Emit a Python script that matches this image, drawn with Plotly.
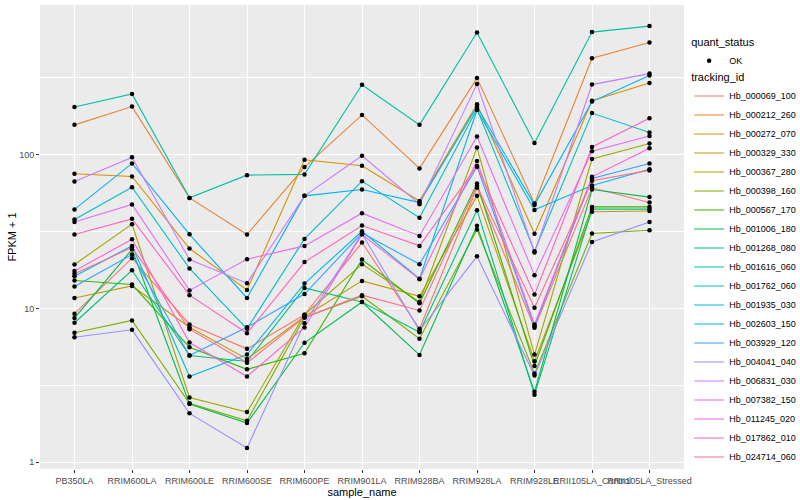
import numpy as np
import plotly.graph_objects as go

samples = ["PB350LA", "RRIM600LA", "RRIM600LE", "RRIM600SE", "RRIM600PE", "RRIM901LA",
           "RRIM928BA", "RRIM928LA", "RRIM928LE", "RRII105LA_Control", "RRII105LA_Stressed"]

tracking_ids = ["Hb_000069_100", "Hb_000212_260", "Hb_000272_070", "Hb_000329_330", "Hb_000367_280",
                "Hb_000398_160", "Hb_000567_170", "Hb_001006_180", "Hb_001268_080", "Hb_001616_060",
                "Hb_001762_060", "Hb_001935_030", "Hb_002603_150", "Hb_003929_120", "Hb_004041_040",
                "Hb_006831_030", "Hb_007382_150", "Hb_011245_020", "Hb_017862_010", "Hb_024714_060"]

colors = ["#F8766D", "#EA8331", "#D89000", "#C09B00", "#A3A500", "#7CAE00", "#39B600", "#00BB4E",
          "#00BF7D", "#00C1A3", "#00BFC4", "#00BAE0", "#00B0F6", "#35A2FF", "#9590FF", "#C77CFF",
          "#E76BF3", "#FA62DB", "#FF62BC", "#FF6C91"]

# FPKM + 1 per sample (same order as `samples`)
hb_000069_100 = [9.24, 21.2, 7.87, 5.46, 9.10, 26.8, 7.37, 60.8, 7.49, 60.8, 48.8]
hb_000212_260 = [156, 205, 52.3, 30.2, 82.9, 181, 81.3, 314, 48.1, 423, 535]
hb_000272_070 = [75.0, 72.1, 24.5, 13.2, 92.5, 84.5, 50.0, 212, 30.6, 224, 292]
hb_000329_330 = [11.7, 14.0, 7.55, 4.70, 8.87, 15.1, 12.0, 53.9, 4.54, 42.5, 43.0]
hb_000367_280 = [19.3, 35.3, 2.64, 2.12, 9.10, 19.4, 11.0, 111, 5.01, 93.5, 118]
hb_000398_160 = [6.94, 8.35, 2.42, 1.86, 8.74, 12.0, 6.35, 32.6, 3.77, 30.7, 32.2]
hb_000567_170 = [15.2, 14.3, 5.60, 4.02, 5.11, 20.8, 10.8, 64.9, 4.23, 45.7, 45.7]
hb_001006_180 = [8.65, 24.2, 2.39, 1.80, 5.98, 11.0, 4.99, 34.4, 2.87, 59.3, 52.9]
hb_001268_080 = [8.07, 17.7, 4.94, 4.52, 13.6, 11.0, 7.01, 43.5, 2.75, 44.2, 44.2]
hb_001616_060 = [204, 248, 52.3, 73.5, 74.3, 284, 156, 622, 119, 625, 684]
hb_001762_060 = [37.8, 61.4, 18.2, 7.37, 28.3, 67.2, 38.8, 198, 23.5, 186, 139]
hb_001935_030 = [16.2, 25.5, 3.61, 5.01, 14.5, 31.7, 15.6, 195, 43.7, 63.0, 80.2]
hb_002603_150 = [44.0, 87.6, 30.3, 11.7, 53.9, 59.3, 48.8, 205, 47.1, 221, 326]
hb_003929_120 = [13.9, 22.4, 4.94, 7.55, 12.4, 30.9, 19.4, 83.3, 7.67, 70.0, 87.6]
hb_004041_040 = [6.50, 7.26, 2.08, 1.24, 8.02, 30.6, 7.19, 21.8, 3.66, 27.0, 36.5]
hb_006831_030 = [66.9, 95.9, 20.8, 14.6, 53.9, 98.2, 47.6, 287, 23.1, 285, 336]
hb_007382_150 = [36.5, 47.4, 13.1, 20.9, 25.5, 41.6, 29.6, 131, 16.4, 105, 132]
hb_011245_020 = [17.5, 28.2, 6.00, 3.61, 7.52, 30.2, 15.5, 90.7, 7.87, 71.7, 110]
hb_017862_010 = [30.2, 38.2, 12.2, 6.90, 20.0, 34.6, 25.5, 84.2, 12.3, 112, 172]
hb_024714_060 = [16.8, 24.9, 7.33, 4.43, 8.74, 12.2, 9.70, 62.6, 10.1, 67.5, 78.9]

series = [hb_000069_100, hb_000212_260, hb_000272_070, hb_000329_330, hb_000367_280,
          hb_000398_160, hb_000567_170, hb_001006_180, hb_001268_080, hb_001616_060,
          hb_001762_060, hb_001935_030, hb_002603_150, hb_003929_120, hb_004041_040,
          hb_006831_030, hb_007382_150, hb_011245_020, hb_017862_010, hb_024714_060]

y_ticks = [1, 10, 100]
y_tick_labels = ["1", "10", "100"]

FONT = "Liberation Sans, Arial, sans-serif"
fig = go.Figure()

for tid, vals, col in zip(tracking_ids, series, colors):
    fig.add_trace(go.Scatter(
        x=samples, y=vals, mode="lines", name=tid,
        line=dict(color=col, width=1.1),
        legend="legend2", hoverinfo="skip",
    ))

all_x = [s for vals in series for s in samples]
all_y = [v for vals in series for v in vals]
fig.add_trace(go.Scatter(
    x=all_x, y=all_y, mode="markers", name="OK",
    marker=dict(color="black", size=4.5),
    legend="legend",
))

lo, hi = np.log10(min(all_y)), np.log10(max(all_y))
pad = 0.05 * (hi - lo)

legend_common = dict(xanchor="left", yanchor="top", bgcolor="rgba(0,0,0,0)", itemwidth=30,
                     font=dict(size=9, color="black", family=FONT))

fig.update_layout(
    width=800, height=500,
    margin=dict(l=40, r=116, t=5, b=31, autoexpand=False),
    paper_bgcolor="white", plot_bgcolor="#EBEBEB",
    font=dict(family=FONT, size=9, color="black"),
    showlegend=True,
    legend=dict(x=1.008, y=0.942,
                title=dict(text="quant_status", font=dict(size=11, color="black", family=FONT)),
                **legend_common),
    legend2=dict(x=1.008, y=0.866,
                 title=dict(text="tracking_id", font=dict(size=11, color="black", family=FONT)),
                 **legend_common),
    xaxis=dict(
        type="category", categoryorder="array", categoryarray=samples,
        range=[-0.6, len(samples) - 0.4], automargin=False,
        showgrid=True, gridcolor="white", gridwidth=1.1, zeroline=False,
        ticks="outside", ticklen=3, tickcolor="#333333", tickwidth=1,
        tickangle=0, tickfont=dict(size=9, color="#4D4D4D", family=FONT),
        title=dict(text="sample_name", font=dict(size=11, color="black", family=FONT), standoff=0),
    ),
    yaxis=dict(
        type="log", range=[lo - pad, hi + pad], automargin=False,
        tickmode="array", tickvals=y_ticks, ticktext=y_tick_labels,
        showgrid=True, gridcolor="white", gridwidth=1.1, zeroline=False,
        ticks="outside", ticklen=3, tickcolor="#333333", tickwidth=1,
        tickfont=dict(size=9, color="#4D4D4D", family=FONT),
        minor=dict(tickmode="array", tickvals=[10 ** 0.5, 10 ** 1.5, 10 ** 2.5],
                   showgrid=True, gridcolor="white", gridwidth=0.55, ticklen=0),
        title=dict(text="FPKM + 1", font=dict(size=11, color="black", family=FONT), standoff=0),
    ),
)

fig.write_html("out.html", config={"displayModeBar": False},
               post_script="document.body.style.margin='0px';")
